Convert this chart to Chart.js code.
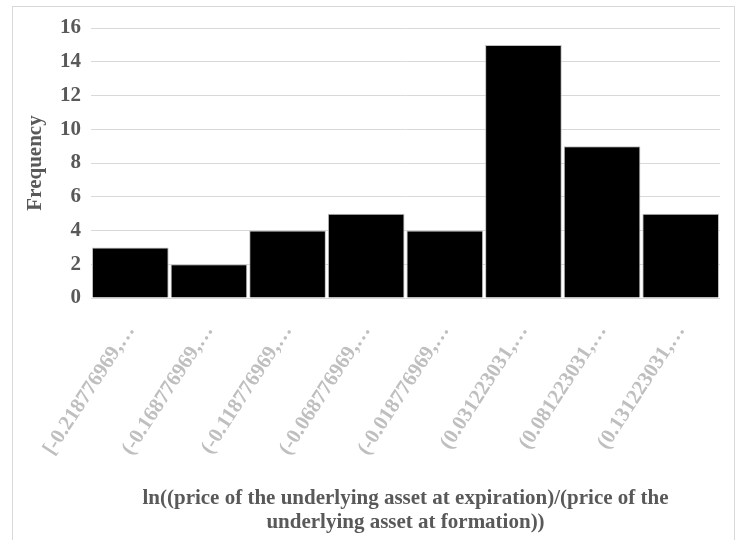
<!DOCTYPE html>
<html lang="en">
<head>
    <meta charset="UTF-8">
    <title>Frequency histogram</title>
    <script src="https://cdn.jsdelivr.net/npm/chart.js"></script>
    <style>
        html, body {
            margin: 0;
            padding: 0;
            background: #fff;
            overflow: hidden;
        }
        .frame {
            position: absolute;
            left: 12px;
            top: 6px;
            width: 721px;
            height: 560px;
            border: 1px solid #d9d9d9;
        }
        .wrap {
            position: absolute;
            left: 0;
            top: 0;
            width: 738px;
            height: 540px;
        }
    </style>
</head>
<body>
    <div class="frame"></div>
    <div class="wrap"><canvas id="chart" width="738" height="540"></canvas></div>
<script>
    // bins of the histogram
    const binLabels = [
        '[-0.218776969,…',
        '(-0.168776969,…',
        '(-0.118776969,…',
        '(-0.068776969,…',
        '(-0.018776969,…',
        '(0.031223031,…',
        '(0.081223031,…',
        '(0.131223031,…'
    ];
    const frequency = [3, 2, 4, 5, 4, 15, 9, 5];
    const yTicks = [0, 2, 4, 6, 8, 10, 12, 14, 16];
    const xTitle = [
        'ln((price of the underlying asset at expiration)/(price of the',
        'underlying asset at formation))'
    ];
    const yTitle = 'Frequency';

    const serif = "'Liberation Serif', 'Times New Roman', serif";

    let chart = new Chart(document.getElementById('chart'), {
        type: 'bar',
        data: {
            labels: binLabels,
            datasets: [{
                data: frequency,
                backgroundColor: '#000000',
                borderColor: '#bfbfbf',
                borderWidth: 1,
                barPercentage: 0.975,
                categoryPercentage: 1
            }]
        },
        options: {
            responsive: false,
            animation: false,
            layout: {
                padding: {top: 28, right: 18, bottom: 4, left: 23}
            },
            plugins: {
                legend: {display: false},
                tooltip: {enabled: false}
            },
            scales: {
                x: {
                    grid: {display: false},
                    border: {display: false},
                    ticks: {
                        minRotation: 57,
                        maxRotation: 57,
                        autoSkip: false,
                        padding: 14,
                        color: '#bfbfbf',
                        font: {family: serif, size: 21, weight: 'bold'}
                    },
                    title: {
                        display: true,
                        text: xTitle,
                        color: '#595959',
                        padding: {top: 8, bottom: 1},
                        font: {family: serif, size: 21, weight: 'bold', lineHeight: 1.15}
                    },
                    afterFit: (s) => { s.height = 238; }
                },
                y: {
                    min: 0,
                    max: 16,
                    afterBuildTicks: (s) => { s.ticks = yTicks.map(v => ({value: v})); },
                    grid: {color: '#d9d9d9', lineWidth: 1, drawTicks: false},
                    border: {display: false},
                    ticks: {
                        padding: 10,
                        color: '#595959',
                        font: {family: serif, size: 21, weight: 'bold'}
                    },
                    title: {
                        display: true,
                        text: yTitle,
                        color: '#595959',
                        padding: 0,
                        font: {family: serif, size: 21, weight: 'bold'}
                    },
                    afterFit: (s) => { s.width = 68; }
                }
            }
        }
    });
</script>
</body>
</html>
